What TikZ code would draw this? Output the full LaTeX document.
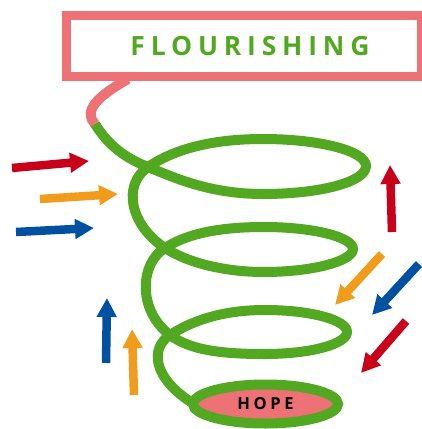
\documentclass[tikz,border=0pt]{standalone}
\usepackage{fontspec}
\setmainfont{Open Sans}
\newfontfamily\titlefont{Open Sans}[LetterSpace=22]
\usetikzlibrary{arrows.meta,shapes.geometric}
\definecolor{sgreen}{HTML}{52A820}
\definecolor{spink}{HTML}{EC7276}
\definecolor{sred}{HTML}{C8001A}
\definecolor{sorange}{HTML}{F29C1C}
\definecolor{sblue}{HTML}{0051A2}
\begin{document}
\begin{tikzpicture}[x=1pt,y=-1pt,
  helix/.style={draw=sgreen, line width=10pt, line cap=butt, line join=round},
  bigarrow/.style={line width=8.5pt, -{Triangle[width=19pt,length=19pt]}},
  titlebox/.style={draw=spink, line width=9pt, minimum width=355pt, minimum height=61pt, inner sep=0pt},
  hopebox/.style={ellipse, draw=sgreen, fill=spink, line width=10pt, minimum width=145pt, minimum height=39pt, inner sep=0pt}]
\useasboundingbox (0,0) rectangle (422,429);
% title box
\node[titlebox] (title) at (244,46) {};
\node[text=sgreen, font=\titlefont\bfseries\fontsize{26.5}{30}\selectfont] (flour) at (250,46.5) {FLOURISHING};
% pink tail
\coordinate (tailtop) at (128,79);
\coordinate (g0) at (95,124);
\draw[draw=spink, line width=10pt] (tailtop) .. controls (100,95) and (82,110) .. (g0);
% helix
\coordinate (c1) at (148,167);
\coordinate (c2) at (165,248);
\coordinate (c3) at (170,335);
\coordinate (c4) at (194,404);
\draw[helix] (g0) .. controls (108,145) and (125,158) .. (c1)
  .. controls (175,178) and (210,194) .. (263,194)
  .. controls (320,194) and (366,182) .. (366,166)
  .. controls (366,151) and (320,139) .. (263,139)
  .. controls (205,139) and (170,152) .. (c1)
  .. controls (122,185) and (130,225) .. (c2)
  .. controls (188,263) and (225,272) .. (264,272)
  .. controls (313,272) and (353,261) .. (353,249)
  .. controls (353,237) and (313,227) .. (264,227)
  .. controls (215,227) and (185,235) .. (c2)
  .. controls (140,263) and (137,310) .. (c3)
  .. controls (191,351) and (225,354) .. (265,354)
  .. controls (311,354) and (347,344) .. (347,332)
  .. controls (347,320) and (311,310) .. (265,310)
  .. controls (220,310) and (190,322) .. (c3)
  .. controls (150,348) and (152,378) .. (c4);
\node[hopebox, font=\titlefont\bfseries\fontsize{16.5}{18}\selectfont] (hope) at (265.5,404) {HOPE};
% arrows
\coordinate (r1s) at (12,168);  \coordinate (r1e) at (89,161);
\coordinate (o1s) at (40,199);  \coordinate (o1e) at (118,194);
\coordinate (b1s) at (16,232);  \coordinate (b1e) at (94,228);
\coordinate (r2s) at (392,232); \coordinate (r2e) at (390,165);
\coordinate (o2s) at (382,254); \coordinate (o2e) at (335,305);
\coordinate (b2s) at (419,264); \coordinate (b2e) at (372,315);
\coordinate (r3s) at (406,321); \coordinate (r3e) at (361,373);
\coordinate (b3s) at (106,363); \coordinate (b3e) at (107,298);
\coordinate (o3s) at (134,395); \coordinate (o3e) at (132,329);
\draw[bigarrow, sred] (r1s) -- (r1e);
\draw[bigarrow, sorange] (o1s) -- (o1e);
\draw[bigarrow, sblue] (b1s) -- (b1e);
\draw[bigarrow, sred] (r2s) -- (r2e);
\draw[bigarrow, sorange] (o2s) -- (o2e);
\draw[bigarrow, sblue] (b2s) -- (b2e);
\draw[bigarrow, sred] (r3s) -- (r3e);
\draw[bigarrow, sblue] (b3s) -- (b3e);
\draw[bigarrow, sorange] (o3s) -- (o3e);
\end{tikzpicture}
\end{document}
